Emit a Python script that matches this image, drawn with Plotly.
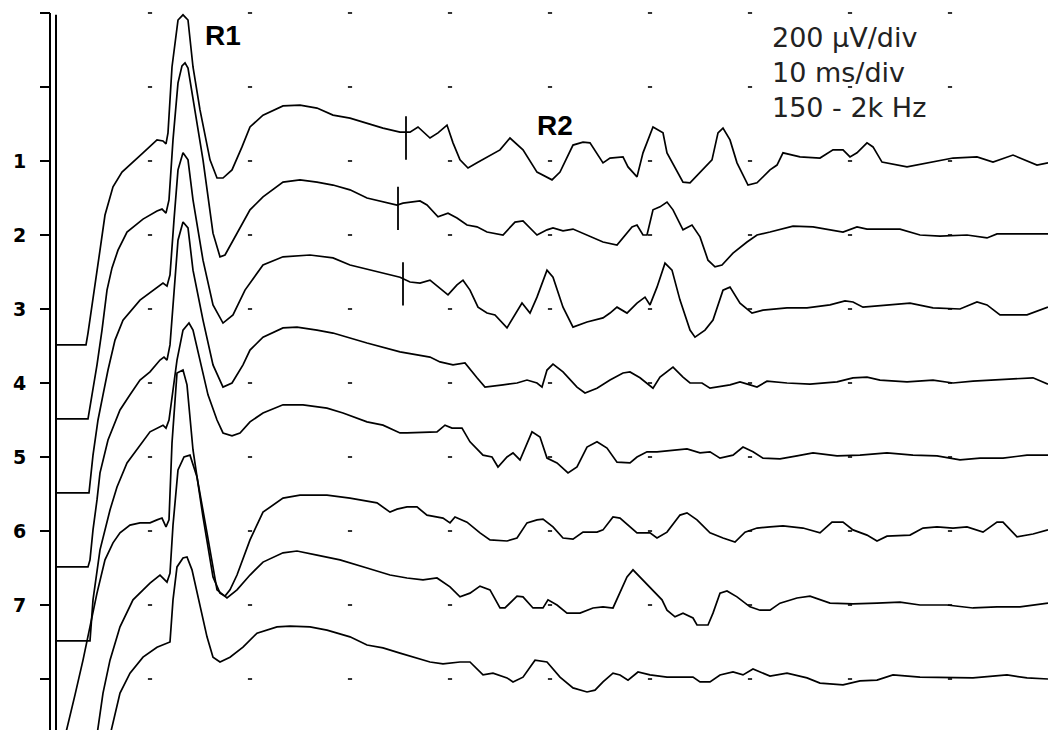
import plotly.graph_objects as go

# ---- data: (time in ms, amplitude in µV relative to the channel baseline)
trace1 = [(0.6,-497),(3.6,-497),(3.8,-465),(4.3,-376),(5.0,-241),(5.5,-146),(6.3,-70),(7.2,-30),(8.0,-11),(9.3,22),
          (10.7,57),(11.3,54),(11.6,46),(11.8,76),(12.2,254),(12.8,381),(13.3,395),(13.8,381),(14.3,254),(15.0,138),
          (16.0,3),(16.7,-46),(17.3,-46),(18.2,-24),(19.2,38),(20.0,92),(21.3,124),(23.3,149),(25.0,151),(26.7,143),
          (28.3,124),(30.0,116),(33.3,89),(35.0,78),(36.0,78),(36.8,92),(38.0,62),(38.8,76),(39.7,97),(40.3,49),
          (41.0,3),(41.8,-19),(42.7,-5),(44.0,16),(45.0,30),(46.0,62),(47.3,30),(48.7,-30),(50.2,-51),(51.0,-30),
          (52.3,43),(53.3,51),(54.0,49),(55.3,-5),(56.0,8),(57.3,11),(57.8,-16),(58.7,-43),(59.3,22),(60.3,92),
          (61.3,76),(61.7,22),(63.3,-57),(64.0,-59),(65.3,-24),(66.2,3),(66.8,76),(67.3,89),(68.0,57),(68.7,-5),
          (69.8,-65),(70.7,-59),(72.0,-24),(72.7,-11),(73.3,22),(75.0,11),(77.0,8),(78.3,30),(79.3,30),(80.0,11),
          (80.7,22),(81.7,49),(82.3,38),(83.2,-3),(85.7,-16),(87.7,-5),(90.3,8),(92.7,11),(94.3,-3),(96.3,16),
          (98.7,-11),(99.8,-5)]
trace2 = [(0.6,-497),(3.8,-497),(4.2,-432),(4.7,-351),(5.2,-257),(5.7,-149),(6.2,-89),(6.8,-41),(7.7,8),(9.3,43),
          (10.7,65),(11.2,70),(11.6,59),(11.9,95),(12.3,257),(12.8,411),(13.2,457),(13.5,465),(13.8,451),(14.3,365),
          (15.3,203),(16.3,5),(17.0,-59),(17.5,-54),(18.7,5),(20.0,68),(21.3,103),(23.3,143),(25.0,149),(26.7,143),
          (28.3,135),(30.0,122),(31.7,100),(33.3,89),(34.7,81),(35.3,86),(37.0,92),(37.7,81),(38.8,49),(39.8,59),
          (40.7,46),(41.7,27),(42.7,22),(43.7,8),(45.3,0),(46.5,35),(47.3,38),(48.7,0),(49.7,14),(50.3,19),
          (51.3,11),(52.3,16),(54.0,-3),(55.3,-19),(56.7,-27),(57.3,-8),(58.2,22),(58.7,27),(59.3,0),(59.7,0),
          (60.3,68),(61.0,76),(61.7,89),(62.3,68),(63.3,14),(64.2,27),(65.0,-5),(65.8,-68),(66.5,-86),(67.2,-81),
          (68.3,-49),(69.7,-19),(70.7,0),(72.0,8),(74.3,24),(76.3,22),(78.3,14),(79.3,8),(80.7,22),(81.7,16),
          (85.0,16),(87.0,0),(89.0,-3),(91.7,0),(93.7,-8),(94.7,3),(97.0,3),(99.8,3)]
trace3 = [(0.6,-497),(3.9,-497),(4.3,-395),(4.8,-300),(5.3,-232),(5.8,-165),(6.5,-84),(7.3,-30),(9.0,24),(10.7,59),
          (11.3,70),(11.7,62),(12.0,92),(12.4,241),(12.8,376),(13.3,422),(13.8,403),(14.3,295),(15.3,132),(16.3,11),
          (17.3,-38),(18.3,-16),(19.5,51),(21.3,119),(23.3,141),(26.0,146),(28.3,138),(30.0,119),(33.3,97),(35.0,86),
          (36.0,73),(37.0,70),(38.0,78),(39.0,57),(39.8,38),(40.7,65),(41.3,78),(42.0,51),(42.8,5),(43.7,-11),
          (44.5,-16),(45.7,-51),(46.5,-16),(47.2,16),(48.0,-11),(48.7,32),(49.7,105),(50.3,86),(51.3,5),(52.3,-49),
          (53.7,-35),(55.3,-24),(56.0,-11),(56.7,5),(57.7,-11),(58.7,16),(59.5,32),(60.0,11),(60.7,59),(61.5,124),
          (62.2,105),(63.0,24),(64.0,-57),(64.5,-76),(65.5,-57),(66.3,-30),(67.3,51),(68.0,59),(69.0,16),(70.2,-11),
          (71.3,-3),(73.7,3),(75.7,3),(78.0,11),(79.5,22),(80.3,19),(81.3,5),(83.7,11),(86.0,16),(88.3,3),
          (91.0,0),(92.7,19),(93.7,11),(95.0,-16),(97.7,-16),(99.8,5)]
trace4 = [(0.6,-497),(3.8,-497),(4.0,-478),(4.3,-397),(4.7,-316),(5.0,-243),(5.8,-154),(7.0,-73),(8.0,-32),(9.0,8),
          (10.0,30),(11.0,62),(11.4,70),(11.7,62),(12.0,103),(12.4,251),(12.8,386),(13.3,435),(13.8,419),(14.3,305),
          (15.3,170),(16.3,49),(17.3,-11),(18.2,0),(19.3,49),(20.0,89),(21.3,124),(23.3,149),(24.7,151),(26.7,143),
          (28.3,135),(31.7,108),(35.0,84),(38.0,70),(39.0,57),(40.3,49),(41.5,54),(42.7,14),(43.5,-11),(45.3,-5),
          (46.7,0),(47.7,8),(48.7,0),(49.2,-11),(49.7,35),(50.3,51),(51.3,30),(52.7,-11),(53.5,-27),(54.7,-14),
          (56.0,8),(57.3,27),(58.0,30),(59.0,14),(60.3,-14),(61.0,16),(62.3,43),(63.3,16),(64.0,0),(65.2,0),
          (66.0,-14),(68.0,-5),(69.0,3),(70.0,-5),(70.7,-11),(71.7,5),(73.7,0),(76.0,-3),(78.7,3),(80.3,14),
          (81.7,16),(83.0,8),(85.7,3),(88.3,8),(90.3,0),(92.3,5),(94.3,8),(96.3,11),(98.3,14),(99.8,-3)]
trace5 = [(0.6,-497),(4.0,-497),(4.3,-386),(4.7,-305),(5.0,-251),(6.0,-143),(6.7,-81),(7.7,-16),(9.0,32),(10.0,68),
          (11.3,86),(11.6,78),(11.9,100),(12.3,181),(12.7,262),(13.3,343),(13.9,362),(14.3,343),(15.0,262),(15.8,168),
          (16.7,100),(17.3,65),(18.2,57),(19.0,65),(20.0,95),(21.3,119),(23.3,141),(25.3,141),(27.7,132),(29.3,119),
          (31.7,95),(33.3,86),(35.0,65),(35.7,65),(38.7,68),(39.5,86),(40.2,78),(41.2,78),(42.0,41),(43.3,5),
          (44.2,0),(44.8,-27),(45.7,0),(46.3,11),(47.0,-8),(48.2,68),(49.0,54),(49.7,-3),(50.7,-16),(51.8,-43),
          (52.7,-27),(53.7,27),(54.7,41),(55.7,24),(56.7,-14),(58.0,-16),(58.7,0),(59.7,14),(60.7,14),(62.3,19),
          (63.7,22),(65.0,11),(66.0,14),(67.0,-3),(68.3,5),(69.3,27),(70.3,14),(71.3,-3),(73.0,-5),(74.7,3),
          (76.3,11),(78.7,3),(81.0,5),(83.7,11),(86.3,5),(88.7,3),(91.0,-8),(93.0,-3),(95.3,-3),(97.7,5),(99.8,5)]
trace6 = [(1.3,-578),(1.7,-530),(2.5,-443),(3.3,-349),(4.0,-259),(4.7,-168),(5.5,-78),(6.3,-32),(7.0,-5),(8.0,16),
          (9.0,22),(10.0,22),(10.7,30),(11.2,35),(11.6,11),(11.9,30),(12.2,238),(12.7,427),(13.3,435),(13.7,395),
          (14.3,219),(15.3,38),(16.3,-124),(17.0,-168),(17.5,-176),(18.0,-159),(18.7,-119),(20.0,-24),(21.3,51),(23.3,89),
          (25.0,97),(27.7,97),(30.0,89),(32.7,76),(34.0,51),(34.7,59),(35.7,65),(36.7,65),(37.7,43),(39.3,35),
          (40.0,22),(40.5,38),(41.7,24),(43.0,-5),(44.0,-24),(45.7,-27),(46.7,-19),(47.7,22),(48.7,30),(49.3,32),
          (50.3,11),(51.3,-19),(52.3,-22),(53.3,-3),(54.7,-3),(55.3,3),(56.3,38),(57.0,35),(58.7,-5),(60.0,-5),
          (60.7,-19),(61.7,-3),(63.0,43),(63.7,49),(64.7,30),(66.0,-5),(67.3,-19),(68.5,-30),(69.5,-3),(70.7,8),
          (72.0,11),(73.3,14),(75.3,8),(77.0,-5),(78.2,24),(79.3,24),(80.3,3),(81.7,-11),(82.7,-27),(83.7,-14),
          (86.0,-11),(87.3,8),(88.7,11),(90.3,8),(91.7,11),(93.3,-3),(94.7,24),(95.3,24),(96.7,-16),(98.3,-8),(99.8,3)]
trace7 = [(4.6,-370),(4.8,-330),(5.3,-238),(6.0,-149),(7.0,-59),(8.3,14),(10.0,59),(11.0,81),(11.7,62),(12.0,86),
          (12.3,216),(12.8,365),(13.4,400),(14.0,405),(14.3,378),(14.7,346),(15.7,195),(16.7,41),(17.7,19),(18.7,41),
          (20.0,81),(21.3,116),(23.3,141),(24.7,146),(26.7,135),(29.0,122),(31.7,100),(34.0,81),(35.7,73),(37.3,68),
          (38.7,73),(40.0,49),(41.0,22),(42.0,32),(43.0,51),(44.0,41),(45.0,-8),(45.5,-8),(46.7,24),(47.3,22),
          (48.3,-8),(49.3,-8),(49.8,14),(50.7,0),(51.7,-22),(53.0,-22),(54.3,-8),(55.3,-5),(56.3,-8),(57.0,32),
          (57.7,76),(58.3,95),(59.3,68),(60.2,41),(61.2,14),(61.7,-14),(62.5,-32),(63.3,-22),(64.3,-35),(64.7,-54),
          (65.8,-54),(66.3,-22),(67.0,32),(67.7,38),(68.7,22),(70.0,-5),(71.0,-14),(72.0,-14),(73.0,5),(74.7,19),
          (76.0,24),(78.0,5),(80.3,3),(82.7,5),(85.0,8),(87.0,0),(89.7,0),(92.3,-8),(94.7,-5),(97.0,-5),(99.8,5)]
trace8 = [(5.8,-176),(6.2,-130),(7.0,-38),(8.0,16),(9.3,59),(10.7,86),(11.7,97),(12.0,100),(12.3,214),(12.7,303),
          (13.3,327),(13.7,330),(14.2,295),(14.7,232),(15.7,114),(16.3,59),(17.0,46),(18.0,59),(19.3,86),(20.7,124),
          (22.7,141),(24.0,143),(26.0,141),(27.7,132),(30.0,114),(31.7,92),(33.3,84),(35.0,70),(36.7,57),(38.0,46),
          (39.3,41),(41.0,46),(42.0,46),(43.3,11),(44.3,16),(45.7,3),(46.3,-8),(47.3,5),(48.5,51),(49.7,46),
          (51.0,5),(52.3,-24),(53.7,-35),(54.5,-30),(55.3,-8),(56.3,16),(57.0,11),(57.8,-3),(58.8,19),(60.0,11),
          (61.7,5),(64.3,5),(65.0,-8),(66.0,-8),(67.0,11),(68.3,19),(69.3,11),(70.3,27),(72.0,8),(73.7,16),
          (75.7,3),(77.0,-11),(79.3,-16),(81.0,-5),(82.7,-3),(84.3,11),(87.0,5),(90.3,3),(92.3,3),(95.7,11),
          (97.7,3),(99.8,0)]

channel_labels = ["", "", "1", "2", "3", "4", "5", "6", "7", ""]
latency_ms = [35.6, 34.8, 35.3]        # onset cursors on channels 1-3
latency_uv = [62, 72, 68]
latency_channel = [0, 1, 2]
info_lines = ["200 µV/div", "10 ms/div", "150 - 2k Hz"]
UV_PER_DIV = 200
MS_PER_DIV = 10

traces = [trace1, trace2, trace3, trace4, trace5, trace6, trace7, trace8]

fig = go.Figure()

# grid dots
grid_ms = [MS_PER_DIV * i for i in range(1, 10)]
grid_uv = [UV_PER_DIV * j for j in range(2, -8, -1)]
fig.add_trace(go.Scatter(
    x=[gx for gy in grid_uv for gx in grid_ms],
    y=[gy for gy in grid_uv for gx in grid_ms],
    mode="markers", marker=dict(symbol="line-ew", size=3, line=dict(width=1.6, color="black")),
    hoverinfo="skip", showlegend=False))

for k, tr in enumerate(traces):
    fig.add_trace(go.Scatter(
        x=[p[0] for p in tr], y=[p[1] - UV_PER_DIV * k for p in tr],
        mode="lines", line=dict(color="black", width=1.7),
        hoverinfo="skip", showlegend=False))

fig.add_trace(go.Scatter(
    x=latency_ms, y=[v - UV_PER_DIV * c for v, c in zip(latency_uv, latency_channel)],
    mode="markers", marker=dict(symbol="line-ns", size=31, line=dict(width=1.8, color="black")),
    hoverinfo="skip", showlegend=False))

W, H = 1048, 730
fig.update_layout(
    width=W, height=H, margin=dict(l=0, r=0, t=0, b=0),
    paper_bgcolor="white", plot_bgcolor="white", showlegend=False,
    xaxis=dict(range=[-5, 99.8], visible=False, fixedrange=True),
    yaxis=dict(range=[-1537.8, 435.1], anchor="free", position=50 / W,
               ticks="outside", ticklen=10, tickwidth=2, tickcolor="black",
               tickvals=grid_uv, ticktext=channel_labels,
               tickfont=dict(family="DejaVu Sans", size=19, color="black", weight="bold"),
               ticklabelstandoff=10,
               showgrid=False, zeroline=False, showline=False, automargin=False, fixedrange=True),
    shapes=[
        dict(type="line", xref="x", yref="y", x0=0, x1=0, y0=400, y1=-1600, line=dict(color="black", width=2)),
        dict(type="line", xref="x", yref="y", x0=0.6, x1=0.6, y0=395, y1=-1600, line=dict(color="black", width=2)),
    ],
)

fig.add_annotation(x=17.3, y=340, xref="x", yref="y", text="<b>R1</b>", showarrow=False,
                   font=dict(family="Liberation Sans", size=28, color="black"), xanchor="center", yanchor="middle")
fig.add_annotation(x=50.45, y=95, xref="x", yref="y", text="<b>R2</b>", showarrow=False,
                   font=dict(family="Liberation Sans", size=28, color="black"), xanchor="center", yanchor="middle")
for line, yv in zip(info_lines, [334, 239, 145]):
    fig.add_annotation(x=72.0, y=yv, xref="x", yref="y", text=line, showarrow=False,
                       font=dict(family="DejaVu Sans", size=27, color="#222222"), xanchor="left", yanchor="middle")

fig.write_html("out.html")
